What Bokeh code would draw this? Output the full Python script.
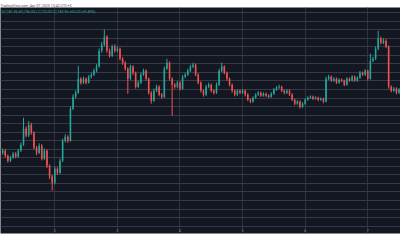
from bokeh.plotting import figure
from bokeh.models import Range1d, FixedTicker, Grid, Label, ColumnDataSource
from bokeh.embed import file_html
from bokeh.resources import INLINE

# hourly candles, hours counted from Apr 1 00:00
hours = list(range(4, 157))
first_open = 6730
close = [6742, 6712, 6683, 6701, 6724, 6707, 6742, 6777, 6871, 6830,
         6894, 6847, 6759, 6730, 6771, 6695, 6742, 6654, 6590, 6554,
         6636, 6613, 6683, 6800, 6824, 6800, 6988, 7058, 7081, 7163,
         7140, 7163, 7140, 7175, 7187, 7210, 7234, 7327, 7362, 7409,
         7327, 7298, 7351, 7327, 7339, 7280, 7257, 7222, 7163, 7234,
         7198, 7116, 7140, 7187, 7210, 7163, 7081, 7034, 7093, 7116,
         7070, 7058, 7222, 7257, 7163, 7128, 7116, 7140, 7105, 7175,
         7187, 7210, 7234, 7245, 7187, 7140, 7093, 7070, 7116, 7128,
         7093, 7081, 7128, 7210, 7234, 7198, 7163, 7128, 7093, 7070,
         7093, 7081, 7093, 7070, 7040, 7029, 7052, 7070, 7081, 7064,
         7075, 7064, 7058, 7075, 7099, 7111, 7116, 7093, 7081, 7093,
         7070, 7040, 7017, 7029, 6999, 7017, 7040, 7052, 7058, 7046,
         7052, 7040, 7046, 7029, 7163, 7175, 7152, 7163, 7140, 7157,
         7152, 7128, 7163, 7152, 7175, 7152, 7169, 7198, 7187, 7210,
         7163, 7269, 7280, 7339, 7398, 7374, 7386, 7351, 7116, 7093,
         7105, 7081, 7099]
high = [6755, 6752, 6720, 6712, 6735, 6733, 6752, 6790, 6935, 6885,
        6915, 6905, 6855, 6770, 6785, 6780, 6755, 6750, 6662, 6600,
        6648, 6645, 6695, 6812, 6838, 6832, 7000, 7072, 7095, 7239,
        7172, 7175, 7170, 7185, 7198, 7222, 7248, 7340, 7378, 7450,
        7418, 7340, 7362, 7365, 7352, 7345, 7290, 7265, 7230, 7245,
        7242, 7205, 7152, 7198, 7222, 7218, 7170, 7090, 7105, 7128,
        7125, 7080, 7235, 7280, 7265, 7172, 7138, 7150, 7148, 7185,
        7198, 7222, 7245, 7257, 7252, 7195, 7148, 7100, 7128, 7140,
        7135, 7100, 7140, 7222, 7257, 7242, 7205, 7170, 7135, 7100,
        7102, 7100, 7102, 7100, 7078, 7048, 7060, 7078, 7090, 7088,
        7084, 7082, 7072, 7084, 7108, 7120, 7128, 7122, 7100, 7102,
        7100, 7078, 7046, 7038, 7036, 7026, 7048, 7060, 7066, 7064,
        7060, 7058, 7054, 7052, 7175, 7186, 7182, 7172, 7170, 7166,
        7165, 7158, 7172, 7170, 7184, 7182, 7178, 7208, 7205, 7220,
        7216, 7310, 7292, 7352, 7444, 7410, 7400, 7395, 7358, 7124,
        7115, 7112, 7108]
low = [6718, 6700, 6672, 6675, 6695, 6698, 6700, 6735, 6770, 6820,
       6822, 6835, 6748, 6715, 6722, 6685, 6688, 6640, 6575, 6508,
       6545, 6600, 6605, 6675, 6790, 6788, 6795, 6980, 7046, 7075,
       7128, 7132, 7130, 7135, 7165, 7180, 7200, 7228, 7315, 7352,
       7315, 7286, 7290, 7315, 7318, 7270, 7245, 7210, 7075, 7155,
       7185, 7105, 7108, 7132, 7180, 7152, 7070, 7017, 7028, 7085,
       7060, 7045, 7050, 7215, 7152, 6947, 7105, 7108, 7095, 7098,
       7166, 7180, 7202, 7225, 7178, 7130, 7082, 7058, 7062, 7108,
       7082, 7070, 7074, 7120, 7202, 7188, 7152, 7118, 7082, 7060,
       7062, 7072, 7074, 7060, 7032, 7020, 7022, 7045, 7062, 7056,
       7058, 7056, 7050, 7052, 7068, 7092, 7104, 7085, 7072, 7074,
       7062, 7032, 7008, 7010, 6988, 6993, 7010, 7034, 7045, 7038,
       7040, 7032, 7034, 7020, 7024, 7155, 7144, 7145, 7132, 7134,
       7144, 7120, 7122, 7145, 7146, 7145, 7146, 7162, 7180, 7180,
       7152, 7158, 7260, 7272, 7330, 7365, 7366, 7342, 7105, 7084,
       7086, 7072, 7074]

day_ticks = [24, 48, 72, 96, 120, 144]
day_labels = ["2", "3", "4", "5", "6", "7"]
price_ticks = [6300, 6350, 6400, 6450, 6500, 6550, 6600, 6650, 6700, 6750,
               6800, 6850, 6900, 6950, 7000, 7050, 7100, 7150, 7200, 7250,
               7300, 7350, 7400, 7450, 7500, 7550]

header = "TradingView.com, Apr 07, 2020 13:42 UTC+3"
legend = "O7,181.96  H7,196.00  L7,170.00  C7,183.96  +65.00 (+0.89%)"

UP = "#26a69a"
DOWN = "#ef5350"

open_ = [first_open] + close[:-1]
colors = [UP if c >= o else DOWN for o, c in zip(open_, close)]
src = ColumnDataSource(dict(x=hours, o=open_, c=close, h=high, l=low, col=colors))

p = figure(width=400, height=250, output_backend="svg", toolbar_location=None,
           x_axis_type=None, y_axis_type=None,
           x_range=Range1d(3.18, 156.55), y_range=Range1d(6257, 7580),
           min_border_top=7, min_border_bottom=17, min_border_left=0, min_border_right=0,
           background_fill_color="#131722", border_fill_color="white",
           outline_line_color=None)

p.title.text = header
p.title.text_font_size = "3.6px"
p.title.text_font = "Roboto"
p.title.text_font_style = "normal"
p.title.text_color = "#555555"
p.title.align = "left"
p.title.standoff = 0
p.title.offset = 0

p.add_layout(Grid(dimension=0, ticker=FixedTicker(ticks=day_ticks),
                  grid_line_color="#2f333e", grid_line_width=1))
p.add_layout(Grid(dimension=1, ticker=FixedTicker(ticks=price_ticks),
                  grid_line_color="#363a45", grid_line_width=1))

p.segment(x0="x", y0="h", x1="x", y1="l", color="col", line_width=1, source=src)
p.vbar(x="x", width=0.6, top="o", bottom="c", fill_color="col", line_color=None, source=src)

for t, lab in zip(day_ticks, day_labels):
    p.add_layout(Label(x=t, y=2, x_units="data", y_units="screen", text=lab,
                       text_font_size="4px", text_color="#787b86",
                       text_align="center", text_baseline="bottom",
                       text_font="Roboto"))

p.add_layout(Label(x=1, y=222, x_units="screen", y_units="screen", text=legend,
                   text_font_size="3.6px", text_color=UP, text_baseline="middle",
                   text_font="Roboto"))

open("out.html", "w").write(file_html(p, INLINE))
